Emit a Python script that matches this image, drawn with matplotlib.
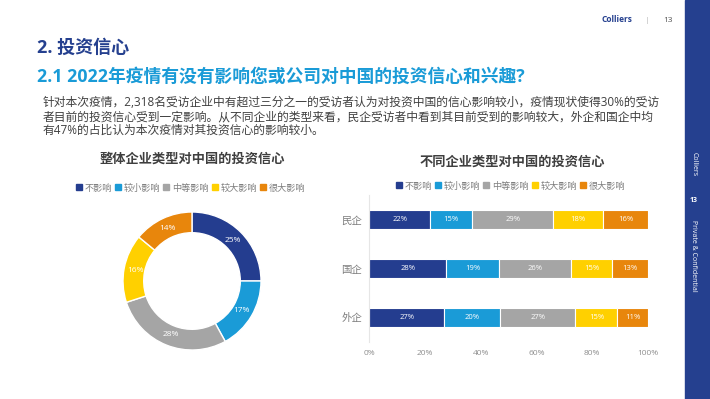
import numpy as np
import matplotlib
matplotlib.use("Agg")
import matplotlib.pyplot as plt
from matplotlib.lines import Line2D

plt.rcParams['font.family'] = ['Open Sans', 'Noto Sans CJK SC', 'DejaVu Sans']

# data
levels = ['不影响', '较小影响', '中等影响', '较大影响', '很大影响']
overall = [25, 17, 28, 16, 14]
companies = ['民企', '国企', '外企']
minqi = [22, 15, 29, 18, 16]
guoqi = [28, 19, 26, 15, 13]
waiqi = [27, 20, 27, 15, 11]
xticks = [0, 20, 40, 60, 80, 100]

colors = ['#243d8f', '#1a9bd7', '#a5a5a5', '#ffd000', '#e8860c']
navy = '#25408f'
W, H = 710, 399


def fx(px):
    return px / W


def fy(py):
    return 1 - py / H


fig = plt.figure(figsize=(7.1, 3.99), dpi=100)
fig.patch.set_facecolor('white')

# side bar
fig.patches.append(plt.Rectangle((fx(685), 0), fx(25), 1, transform=fig.transFigure,
                                 color=navy, zorder=0))
fig.text(fx(694), fy(164), 'Colliers', rotation=-90, color='white', fontsize=5,
         ha='center', va='center')
fig.text(fx(694), fy(201), '13', color='white', fontsize=5, fontweight='bold',
         ha='center', va='center')
fig.text(fx(694), fy(256), 'Private & Confidential', rotation=-90, color='white',
         fontsize=5, ha='center', va='center')

# header
fig.text(fx(617), fy(20), 'Colliers', color=navy, fontsize=6, fontweight='bold',
         ha='center', va='center')
fig.text(fx(647), fy(20), '|', color='#bbbbbb', fontsize=6, ha='center', va='center')
fig.text(fx(668), fy(20), '13', color='#555555', fontsize=6, ha='center', va='center')

fig.text(fx(37), fy(48), '2. 投资信心', color=navy, fontsize=13, fontweight='bold',
         ha='left', va='center')
fig.text(fx(37), fy(77), '2.1 2022年疫情有没有影响您或公司对中国的投资信心和兴趣?',
         color='#1a9bd7', fontsize=12.8, fontweight='bold', ha='left', va='center')

body = ['针对本次疫情，2,318名受访企业中有超过三分之一的受访者认为对投资中国的信心影响较小，疫情现状使得30%的受访',
        '者目前的投资信心受到一定影响。从不同企业的类型来看，民企受访者中看到其目前受到的影响较大，外企和国企中均',
        '有47%的占比认为本次疫情对其投资信心的影响较小。']
for i, line in enumerate(body):
    fig.text(fx(43), fy(102.5 + 14 * i), line, color='#404040', fontsize=8.5,
             ha='left', va='center')

# legends
handles = [Line2D([], [], marker='s', linestyle='', markersize=4, color=c) for c in colors]
for cx, cy in [(191, 188), (511, 186)]:
    fig.legend(handles, levels, loc='center', bbox_to_anchor=(fx(cx), fy(cy)), ncol=5,
               frameon=False, fontsize=6.6, labelcolor='#7f7f7f', handlelength=0.5,
               handletextpad=0.4, columnspacing=0.4, borderpad=0)

fig.text(fx(192), fy(159), '整体企业类型对中国的投资信心', color='#3f3f3f', fontsize=9.5,
         fontweight='bold', ha='center', va='center')
fig.text(fx(512), fy(162), '不同企业类型对中国的投资信心', color='#3f3f3f', fontsize=9.5,
         fontweight='bold', ha='center', va='center')

# donut
ax1 = fig.add_axes([fx(123), fy(350), fx(138), 138 / H])
wedges, _ = ax1.pie(overall, colors=colors, startangle=90, counterclock=False,
                    radius=1, wedgeprops=dict(width=0.3, edgecolor='white', linewidth=1))
for w, v in zip(wedges, overall):
    ang = np.deg2rad((w.theta1 + w.theta2) / 2)
    ax1.text(0.84 * np.cos(ang), 0.84 * np.sin(ang), f'{v}%', color='white',
             fontsize=6, ha='center', va='center')
ax1.set_xlim(-1, 1)
ax1.set_ylim(-1, 1)
ax1.set_aspect('equal')
ax1.axis('off')

# stacked bars
ax2 = fig.add_axes([fx(369), fy(342), fx(279), 147 / H])
rows = [minqi, guoqi, waiqi]
ypos = [2, 1, 0]
for y, vals in zip(ypos, rows):
    total = sum(vals)
    left = 0
    for v, c in zip(vals, colors):
        share = v / total * 100
        ax2.barh(y, share, left=left, height=0.39, color=c, edgecolor='white', linewidth=0.8)
        ax2.text(left + share / 2, y, f'{v}%', color='white', fontsize=5.5,
                 ha='center', va='center')
        left += share
ax2.set_xlim(0, 100)
ax2.set_ylim(-0.5, 2.5)
ax2.set_yticks(ypos)
ax2.set_yticklabels(companies, fontsize=7.5, color='#7f7f7f')
ax2.set_xticks(xticks)
ax2.set_xticklabels([f'{t}%' for t in xticks], fontsize=6, color='#8f8f8f')
ax2.tick_params(axis='y', length=0, pad=5)
ax2.tick_params(axis='x', length=0, pad=6)
for s in ['top', 'right', 'bottom']:
    ax2.spines[s].set_visible(False)
ax2.spines['left'].set_color('#e6e6e6')
ax2.spines['left'].set_linewidth(0.8)

fig.savefig('out.png', dpi=100)
